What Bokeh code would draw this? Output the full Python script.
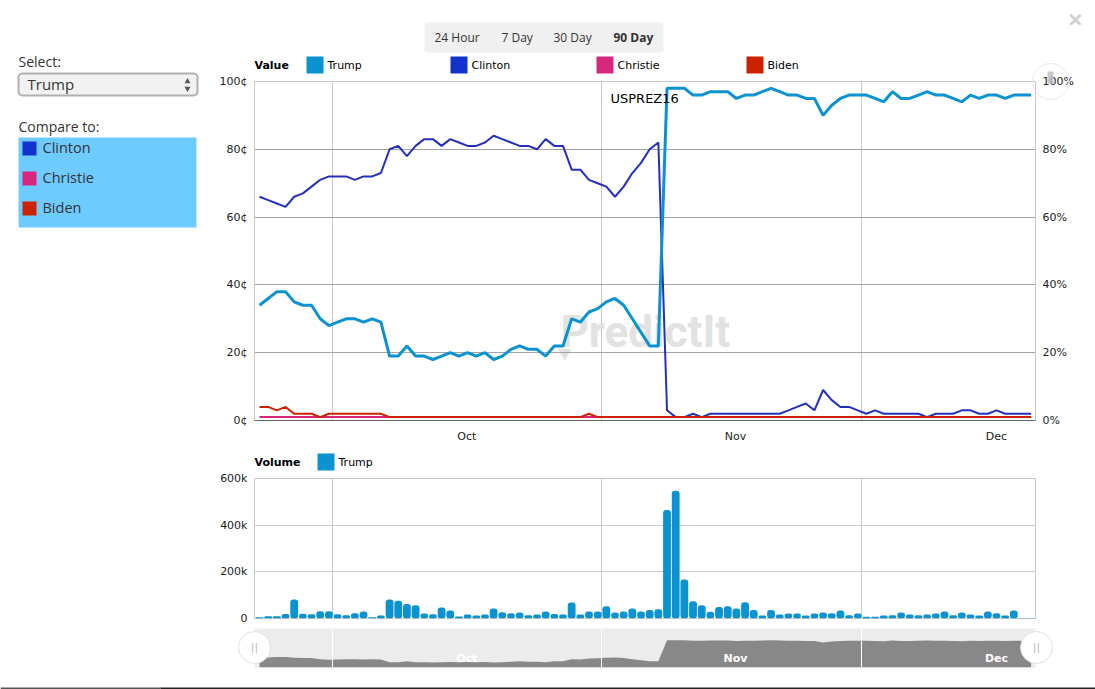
from bokeh.core.properties import value
from bokeh.embed import file_html
from bokeh.resources import INLINE
from bokeh.layouts import row, column
from bokeh.plotting import figure
from bokeh.models import Range1d, LinearAxis, FixedTicker, Label

# ---------- data ----------
trump = [34,36,38,38,35,34,34,30,28,29,30,30,29,30,29,19,19,22,19,19,18,19,20,19,20,19,20,18,19,21,22,21,21,19,22,22,30,29,32,33,35,36,34,30,26,22,22,
         98,98,98,96,96,97,97,97,95,96,96,97,98,97,96,96,95,95,90,93,95,96,96,96,95,94,97,95,95,96,97,96,96,95,94,96,95,96,96,95,96,96,96]
clinton = [66,65,64,63,66,67,69,71,72,72,72,71,72,72,73,80,81,78,81,83,83,81,83,82,81,81,82,84,83,82,81,81,80,83,81,81,74,74,71,70,69,66,69,73,76,80,82,
           3,1,1,2,1,2,2,2,2,2,2,2,2,2,3,4,5,3,9,6,4,4,3,2,3,2,2,2,2,2,1,2,2,2,3,3,2,2,3,2,2,2,2]
christie = [1]*90
biden = [4,4,3,4,2,2,2,1,2,2,2,2,2,2,2,1,1,1,1,1,1,1,1,1,1,1,1,1,1,1,1,1,1,1,1,1,1,1,2,
         1,1,1,1,1,1,1,1,1,1,1,1,1,1,1,1,1,1,1,1,1,1,1,1,1,1,1,1,1,1,1,1,1,1,1,1,1,1,1,1,1,1,1,1,1,1,1,1,1,1,1]
volume = [5,10,10,19,81,20,18,31,31,18,14,22,30,5,13,81,76,62,57,21,18,47,34,9,17,13,17,43,27,23,26,14,17,30,19,17,69,17,30,30,52,26,30,43,30,36,40,
          465,548,167,74,57,29,49,53,43,70,36,13,36,17,21,21,13,21,26,23,34,14,21,7,7,13,14,26,17,14,17,21,30,14,26,17,13,30,23,13,34,2,2]
days = list(range(len(trump)))

value_ticks = [0, 20, 40, 60, 80, 100]
cent_labels = ["0¢", "20¢", "40¢", "60¢", "80¢", "100¢"]
pct_labels = ["0%", "20%", "40%", "60%", "80%", "100%"]
volume_ticks = [0, 200000, 400000, 600000]
volume_labels = ["0", "200k", "400k", "600k"]
month_starts = [8.42, 39.42, 69.42]
month_centres = [23.9, 54.9, 85.0]
month_names = ["Oct", "Nov", "Dec"]
series_names = ["Trump", "Clinton", "Christie", "Biden"]

BLUE, NAVY, PINK, RED = "#0b92d0", "#2330bd", "#d6267e", "#cc2200"
SW_NAVY = "#1133cc"
FONT, UI = "DejaVu Sans", "Open Sans"
X0, X1 = -0.58, 89.5
LEFT, RIGHT = 49, 60
FW = 781
SIDE = 205


def style_y_axis(ax):
    ax.axis_line_color = None
    ax.major_tick_line_color = None
    ax.minor_tick_line_color = None
    ax.major_tick_out = 0
    ax.major_tick_in = 0
    ax.minor_tick_out = 0
    ax.major_label_standoff = 7
    ax.major_label_text_font = FONT
    ax.major_label_text_font_size = "11px"
    ax.major_label_text_color = "#222222"


# ---------- value chart ----------
TOP_V, H_V, BOT_V = 81, 339, 25
v = figure(width=LEFT + FW + RIGHT, height=TOP_V + H_V + BOT_V, frame_width=FW, frame_height=H_V,
           x_range=Range1d(X0, X1), y_range=Range1d(0, 100), toolbar_location=None, output_backend="svg",
           min_border_left=LEFT, min_border_right=RIGHT, min_border_top=TOP_V, min_border_bottom=BOT_V)
v.outline_line_color = "#c8c8c8"
v.xaxis.ticker = FixedTicker(ticks=month_centres)
v.xaxis.major_label_overrides = dict(zip(month_centres, month_names))
v.xaxis.major_tick_line_color = None
v.xaxis.major_tick_out = 0
v.xaxis.major_tick_in = 0
v.xaxis.axis_line_color = "#666666"
v.xaxis.major_label_standoff = 9
v.xaxis.major_label_text_font = FONT
v.xaxis.major_label_text_font_size = "11px"
v.xaxis.major_label_text_color = "#222222"
v.xgrid.ticker = FixedTicker(ticks=month_starts)
v.xgrid.grid_line_color = "#c8c8c8"
v.ygrid.ticker = FixedTicker(ticks=value_ticks)
v.ygrid.grid_line_color = "#a4a4a4"
v.yaxis.ticker = FixedTicker(ticks=value_ticks)
v.yaxis.major_label_overrides = dict(zip(value_ticks, cent_labels))
right_axis = LinearAxis(ticker=FixedTicker(ticks=value_ticks),
                        major_label_overrides=dict(zip(value_ticks, pct_labels)))
v.add_layout(right_axis, "right")
style_y_axis(v.yaxis[0])
style_y_axis(right_axis)

v.add_layout(Label(x=34.7, y=18.5, text="PredictIt", text_font="Roboto", text_font_style="bold",
                   text_font_size="44px", text_color="#e2e2e2", level="underlay"))
v.scatter(x=[35.2], y=[20], marker="inverted_triangle", size=14, fill_color="#e2e2e2", line_color=None, level="underlay")
v.line(days, christie, line_color=PINK, line_width=2)
v.line(days, clinton, line_color=NAVY, line_width=2)
v.line(days, trump, line_color=BLUE, line_width=3)
v.line(days, biden, line_color=RED, line_width=2)

# ---------- volume chart ----------
TOP_B, H_B, BOT_B = 33, 140, 7
b = figure(width=LEFT + FW + RIGHT, height=TOP_B + H_B + BOT_B, frame_width=FW, frame_height=H_B,
           x_range=Range1d(X0, X1), y_range=Range1d(0, 600000), toolbar_location=None, output_backend="svg",
           min_border_left=LEFT, min_border_right=RIGHT, min_border_top=TOP_B, min_border_bottom=BOT_B)
b.outline_line_color = "#c8c8c8"
b.xaxis.visible = False
b.xgrid.ticker = FixedTicker(ticks=month_starts)
b.xgrid.grid_line_color = "#c8c8c8"
b.ygrid.ticker = FixedTicker(ticks=volume_ticks)
b.ygrid.grid_line_color = "#cccccc"
b.yaxis.ticker = FixedTicker(ticks=volume_ticks)
b.yaxis.major_label_overrides = dict(zip(volume_ticks, volume_labels))
style_y_axis(b.yaxis[0])
b.vbar(x=days, top=[k * 1000 for k in volume], width=0.9, fill_color=BLUE, line_color=None, border_radius=3)

# ---------- navigator ----------
TOP_N, H_N, BOT_N = 3, 39, 22
n = figure(width=LEFT + FW + RIGHT, height=TOP_N + H_N + BOT_N, frame_width=FW, frame_height=H_N,
           x_range=Range1d(X0, X1), y_range=Range1d(0, 140), toolbar_location=None, output_backend="svg",
           min_border_left=LEFT, min_border_right=RIGHT, min_border_top=TOP_N, min_border_bottom=BOT_N,
           background_fill_color="#ececec")
n.outline_line_color = None
n.xaxis.visible = False
n.yaxis.visible = False
n.ygrid.visible = False
n.xgrid.ticker = FixedTicker(ticks=month_starts)
n.xgrid.grid_line_color = "#ffffff"
n.xgrid.level = "overlay"
n.varea(x=days, y1=[0] * len(days), y2=trump, fill_color="#888888")
n.text(x=month_centres, y=[31] * 3, text=month_names, text_color="#ffffff", text_font=value(FONT),
       text_font_style="bold", text_font_size="11px", text_align="center", text_baseline="middle")

# ---------- interface chrome: one transparent figure over the page, ranged in page pixels ----------
o = figure(width=1095, height=689, x_range=Range1d(0, 1095), y_range=Range1d(689, 0), toolbar_location=None,
           output_backend="svg", min_border=0, x_axis_type=None, y_axis_type=None,
           background_fill_color=None, border_fill_color=None,
           styles={"position": "absolute", "left": "0px", "top": "0px", "z-index": "10", "pointer-events": "none"})
o.outline_line_color = None
o.grid.visible = False


def txt(x, y, text, size="11px", color="#000000", style="normal", font=FONT, align="left"):
    o.text(x=[x], y=[y], text=[text], text_font=value(font), text_font_size=size, text_color=color,
           text_font_style=style, text_align=align, text_baseline="middle")


# bottom strip of the page behind the dialog
o.quad(left=[0, 160], right=[160, 1095], top=[687, 687], bottom=[689, 689], fill_color=["#555555", "#222222"], line_color=None)

# sidebar
o.quad(left=[18], right=[197], top=[73], bottom=[95], fill_color="#f2f2f2", line_color="#b0b0b0", line_width=2, border_radius=4)
o.scatter(x=[187], y=[81], marker="triangle", size=6, fill_color="#555555", line_color=None)
o.scatter(x=[187], y=[88], marker="inverted_triangle", size=6, fill_color="#555555", line_color=None)
o.quad(left=[18], right=[196], top=[137], bottom=[227], fill_color="#6ecbff", line_color=None)
o.quad(left=[22, 22, 22], right=[36, 36, 36], top=[141, 171, 201], bottom=[155, 185, 215],
       fill_color=[SW_NAVY, PINK, RED], line_color=None)
txt(18, 61, "Select:", "14px", "#333333", font=UI)
txt(18, 126, "Compare to:", "14px", "#333333", font=UI)
txt(27, 83, series_names[0], "15px", "#333333", font=UI)
for yy, name in zip([147, 177, 207], series_names[1:]):
    txt(42, yy, name, "14.5px", "#333333", font=UI)

# range buttons
o.quad(left=[424], right=[663], top=[22], bottom=[52], fill_color="#f0f0f0", line_color=None, border_radius=3)
for x0, t, st in [(434, "24 Hour", "normal"), (501, "7 Day", "normal"), (553, "30 Day", "normal"), (613, "90 Day", "bold")]:
    txt(x0, 37, t, "12px", "#333333", st, UI)
txt(1075, 18, "×", "20px", "#cccccc", "bold", align="center")

# value legend
txt(254, 65, "Value", style="bold")
for x0, col, name in zip([306, 450, 596, 746], [BLUE, SW_NAVY, PINK, RED], series_names):
    o.quad(left=[x0], right=[x0 + 17], top=[56], bottom=[73], fill_color=col, line_color=None)
    txt(x0 + 21, 65, name)
txt(610, 98, "USPREZ16", "13px")

# volume legend
txt(254, 462, "Volume", style="bold")
o.quad(left=[317], right=[334], top=[453], bottom=[470], fill_color=BLUE, line_color=None)
txt(338, 462, series_names[0])

# handles
o.scatter(x=[1050], y=[81], marker="circle", size=36, fill_color="#ffffff", fill_alpha=0.0, line_color="#eaeaea")
o.quad(left=[1047], right=[1053], top=[71], bottom=[83], fill_color="#bbbbbb", fill_alpha=0.8, line_color=None)
o.scatter(x=[254, 1036], y=[647, 647], marker="circle", size=32, fill_color="#ffffff", line_color="#e0e0e0")
o.text(x=[254, 1036], y=[647, 647], text=["||", "||"], text_font=value(FONT), text_font_size="11px",
       text_color="#bbbbbb", text_align="center", text_baseline="middle")

spacer = figure(width=SIDE, height=10, toolbar_location=None, output_backend="svg", min_border=0,
                x_axis_type=None, y_axis_type=None, outline_line_color=None)
spacer.grid.visible = False
spacer.line([0, 1], [0, 0], line_alpha=0)

page = row(spacer, column(v, b, n, spacing=0), o, spacing=0)
open("out.html", "w").write(file_html(page, INLINE))
